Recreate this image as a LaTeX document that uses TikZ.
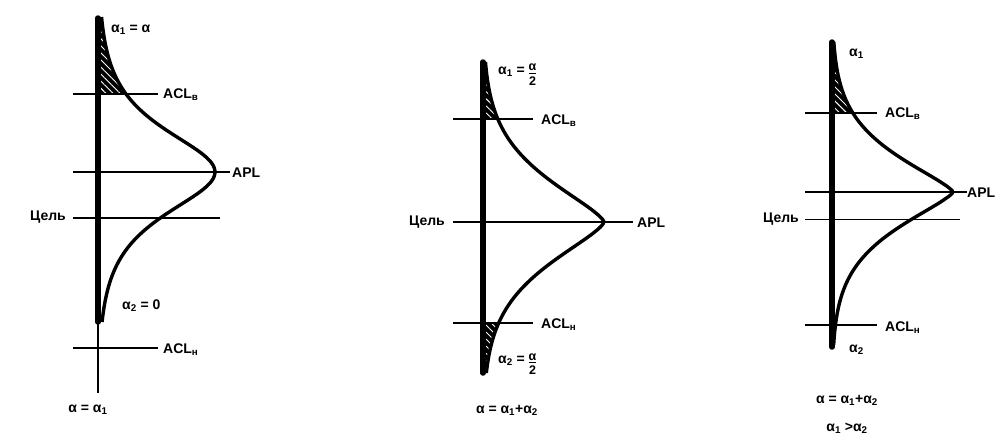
\documentclass[tikz,border=0pt]{standalone}
\usepackage{fontspec}
\setmainfont{Liberation Sans}
\usetikzlibrary{patterns.meta}
\tikzset{
  axisline/.style={line width=5.5pt},
  thinaxis/.style={line width=1.2pt},
  level/.style={line width=1.9pt},
  thinlevel/.style={line width=1pt},
  curve/.style={line width=3.4pt, line join=round},
  lbl/.style={font=\bfseries\fontsize{14}{16}\selectfont, inner sep=1pt},
  hatch/.style={fill=black},
  hatchw/.style={pattern={Lines[angle=-45,distance=5pt,line width=0.9pt]}, pattern color=white}
}
\newcommand{\sechc}[4]{#1+#2*2/(exp((#3)/#4)+exp(-(#3)/#4))}
\newcommand{\pwc}[5]{#1+#2*exp(-exp(#5*ln(max(abs(#3),0.001)/#4)))}
\newcommand{\halfa}{\raisebox{-0.55ex}{\begin{tabular}{@{}c@{}}\fontsize{12.5}{12}\selectfont α\\[-3pt]\hline\noalign{\vskip1pt}\fontsize{12.5}{12}\selectfont 2\end{tabular}}}
\begin{document}
\begin{tikzpicture}[x=1pt,y=-1pt]
\useasboundingbox (0,0) rectangle (1005,447);
% ---------- panel 1 ----------
\fill[hatch] (98,17) -- plot[domain=17:94,samples=40,variable=\t] ({\sechc{98}{117}{\t-172}{37}},\t) -- (98,94) -- cycle;
\fill[hatchw] (98,17) -- plot[domain=17:94,samples=40,variable=\t] ({\sechc{98}{117}{\t-172}{37}},\t) -- (98,94) -- cycle;
\draw[level] (73,94) -- (158,94);
\draw[level] (73,172) -- (230,172);
\draw[level] (73,218) -- (220,218);
\draw[level] (73,348) -- (158,348);
\draw[thinaxis] (98,320) -- (98,393);
\draw[axisline,line cap=round] (98,18) -- (98,322);
\draw[curve] plot[domain=17:322,samples=120,variable=\t] ({\sechc{98}{117}{\t-172}{37}},\t);
\node[lbl,anchor=west] (a1) at (110,30) {α\textsubscript{1} = α};
\node[lbl,anchor=west] (aclv1) at (162,95) {ACL\textsubscript{в}};
\node[lbl,anchor=west] (apl1) at (231,173) {APL};
\node[lbl,anchor=east] (goal1) at (67,217) {Цель};
\node[lbl,anchor=west] (a21) at (121,306) {α\textsubscript{2} = 0};
\node[lbl,anchor=west] (acln1) at (162,350) {ACL\textsubscript{н}};
\node[lbl] (sum1) at (88,410) {α = α\textsubscript{1}};
% ---------- panel 2 ----------
\fill[hatch] (483,62) -- plot[domain=62:119,samples=30,variable=\t] ({\pwc{483}{121}{\t-222}{60.6}{1.4}},\t) -- (483,119) -- cycle;
\fill[hatchw] (483,62) -- plot[domain=62:119,samples=30,variable=\t] ({\pwc{483}{121}{\t-222}{60.6}{1.4}},\t) -- (483,119) -- cycle;
\fill[hatch] (483,323) -- plot[domain=323:373,samples=30,variable=\t] ({\pwc{483}{121}{\t-222}{60.6}{1.4}},\t) -- (483,373) -- cycle;
\fill[hatchw] (483,323) -- plot[domain=323:373,samples=30,variable=\t] ({\pwc{483}{121}{\t-222}{60.6}{1.4}},\t) -- (483,373) -- cycle;
\draw[level] (453,119) -- (533,119);
\draw[level] (453,222) -- (633,222);
\draw[level] (453,323) -- (533,323);
\draw[axisline,line cap=round] (483,62) -- (483,373);
\draw[curve] plot[domain=62:373,samples=157,variable=\t] ({\pwc{483}{121}{\t-222}{60.6}{1.4}},\t);
\node[lbl,anchor=west] (a12) at (497,75) {α\textsubscript{1} = \halfa};
\node[lbl,anchor=west] (aclv2) at (540,121) {ACL\textsubscript{в}};
\node[lbl,anchor=east] (goal2) at (446,222) {Цель};
\node[lbl,anchor=west] (apl2) at (636,223) {APL};
\node[lbl,anchor=west] (acln2) at (540,325) {ACL\textsubscript{н}};
\node[lbl,anchor=west] (a22) at (497,364) {α\textsubscript{2} = \halfa};
\node[lbl] (sum2) at (507,410) {α = α\textsubscript{1}+α\textsubscript{2}};
% ---------- panel 3 ----------
\fill[hatch] (832,42) -- plot[domain=42:113,samples=30,variable=\t] ({\pwc{832}{121}{\t-192}{52}{1.35}},\t) -- (832,113) -- cycle;
\fill[hatchw] (832,42) -- plot[domain=42:113,samples=30,variable=\t] ({\pwc{832}{121}{\t-192}{52}{1.35}},\t) -- (832,113) -- cycle;
\fill[hatch] (832,325) -- plot[domain=325:345,samples=15,variable=\t] ({\pwc{832}{121}{\t-192}{52}{1.35}},\t) -- (832,345) -- cycle;
\draw[level] (805,113) -- (877,113);
\draw[level] (805,192) -- (967,192);
\draw[thinlevel] (805,219) -- (960,219);
\draw[level] (805,325) -- (877,325);
\draw[axisline,line cap=round] (832,42) -- (832,347);
\draw[curve] plot[domain=42:345,samples=152,variable=\t] ({\pwc{832}{121}{\t-192}{52}{1.35}},\t);
\node[lbl,anchor=west] (a13) at (848,54) {α\textsubscript{1}};
\node[lbl,anchor=west] (aclv3) at (884,114) {ACL\textsubscript{в}};
\node[lbl,anchor=west] (apl3) at (966,193) {APL};
\node[lbl,anchor=east] (goal3) at (800,219) {Цель};
\node[lbl,anchor=west] (acln3) at (884,328) {ACL\textsubscript{н}};
\node[lbl,anchor=west] (a23) at (848,350) {α\textsubscript{2}};
\node[lbl] (sum3) at (847,400) {α = α\textsubscript{1}+α\textsubscript{2}};
\node[lbl] (ineq3) at (847,428) {α\textsubscript{1} >α\textsubscript{2}};
\end{tikzpicture}
\end{document}
